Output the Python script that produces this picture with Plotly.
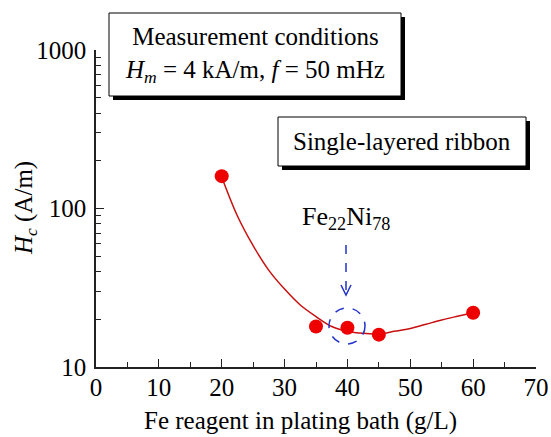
import plotly.graph_objects as go

# Data
fe_reagent = [20, 35, 40, 45, 60]
hc_values = [160, 18, 17.7, 16, 22]

# Fitted guide curve
fit_x = [20, 22.5, 25, 27.5, 30, 32.5, 35, 37.5, 40, 42.5, 45, 47.5, 50, 52.5, 55, 57.5, 60]
fit_y = [158, 89.7, 58.3, 40.7, 31, 24.6, 20.8, 18.0, 16.8, 16.3, 16.2, 16.8, 17.5, 18.6, 19.8, 20.9, 22]

x_ticks = [0, 10, 20, 30, 40, 50, 60, 70]
x_minor = [5, 15, 25, 35, 45, 55, 65]
y_ticks = [10, 100, 1000]
y_minor = [m * d for d in (10, 100) for m in range(2, 10)]

W, H = 551, 437
X0, X1, Y0, Y1 = 96, 536, 367, 50   # plot area in pixels
L, T = X0, Y1
R, B = W - X1, H - Y0
PW, PH = X1 - X0, Y0 - Y1

def px(x):  # pixel x -> paper
    return (x - X0) / PW

def py(y):  # pixel y -> paper
    return (Y0 - y) / PH

FONT = "Liberation Serif, Times New Roman, serif"
BLUE = "#2233cc"

fig = go.Figure()
fig.add_trace(go.Scatter(x=fit_x, y=fit_y, mode="lines",
                         line=dict(color="#c81010", width=1.5, shape="spline", smoothing=1.0),
                         hoverinfo="skip", showlegend=False))
fig.add_trace(go.Scatter(x=fe_reagent, y=hc_values, mode="markers",
                         marker=dict(color="#ee0000", size=14),
                         showlegend=False))

shapes = []

def box(x0, y0, x1, y1, sh=4):
    shapes.append(dict(type="rect", xref="paper", yref="paper",
                       x0=px(x0 + sh), x1=px(x1 + sh), y0=py(y1 + sh), y1=py(y0 + sh),
                       fillcolor="black", line=dict(width=0), layer="above"))
    shapes.append(dict(type="rect", xref="paper", yref="paper",
                       x0=px(x0), x1=px(x1), y0=py(y1), y1=py(y0),
                       fillcolor="white", line=dict(color="black", width=1), layer="above"))

box(109, 13, 401, 96)
box(278, 117, 526, 166)

# dashed circle around the Fe22Ni78 point
ccx, ccy, cr = 347, 326, 18
shapes.append(dict(type="circle", xref="paper", yref="paper",
                   x0=px(ccx - cr), x1=px(ccx + cr), y0=py(ccy + cr), y1=py(ccy - cr),
                   line=dict(color=BLUE, width=1.5, dash="dash"), layer="above"))
# dashed arrow
ax_px = 346
shapes.append(dict(type="line", xref="paper", yref="paper",
                   x0=px(ax_px), x1=px(ax_px), y0=py(245), y1=py(294),
                   line=dict(color=BLUE, width=1.5, dash="dash")))
shapes.append(dict(type="path", xref="paper", yref="paper",
                   path=f"M {px(ax_px-5)} {py(285)} L {px(ax_px)} {py(295)} L {px(ax_px+5)} {py(285)}",
                   line=dict(color=BLUE, width=1.5)))

annotations = [
    dict(xref="paper", yref="paper", x=px(255), y=py(55),
         text="Measurement conditions<br><i>H</i><sub><i>m</i></sub> = 4 kA/m, <i>f</i> = 50 mHz",
         showarrow=False, font=dict(family=FONT, size=25, color="black"),
         xanchor="center", yanchor="middle"),
    dict(xref="paper", yref="paper", x=px(402), y=py(141),
         text="Single-layered ribbon", showarrow=False,
         font=dict(family=FONT, size=25, color="black"),
         xanchor="center", yanchor="middle"),
    dict(xref="paper", yref="paper", x=px(346), y=py(218),
         text="Fe<sub>22</sub>Ni<sub>78</sub>", showarrow=False,
         font=dict(family=FONT, size=26, color="black"),
         xanchor="center", yanchor="middle"),
    dict(xref="paper", yref="paper", x=px(25), y=py(208), textangle=-90,
         text="<i>H</i><sub><i>c</i></sub> (A/m)", showarrow=False,
         font=dict(family=FONT, size=25, color="black"),
         xanchor="center", yanchor="middle"),
    dict(xref="paper", yref="paper", x=px(300), y=py(421),
         text="Fe reagent in plating bath (g/L)", showarrow=False,
         font=dict(family=FONT, size=25, color="black"),
         xanchor="center", yanchor="middle"),
]

fig.update_layout(
    width=W, height=H,
    margin=dict(l=L, r=R, t=T, b=B, pad=0, autoexpand=False),
    plot_bgcolor="white", paper_bgcolor="white",
    font=dict(family=FONT, size=25, color="black"),
    shapes=shapes, annotations=annotations,
    xaxis=dict(range=[0, 70], tickvals=x_ticks, ticktext=[str(v) for v in x_ticks],
               automargin=False,
               ticks="inside", ticklen=8, tickwidth=1.2, tickcolor="#222",
               showline=True, linecolor="#222", linewidth=1.5, mirror=False,
               showgrid=False, zeroline=False,
               minor=dict(ticks="inside", ticklen=5, tickwidth=1.2, tickcolor="#222",
                          tickvals=x_minor, showgrid=False),
               tickfont=dict(size=25), ticklabelstandoff=-3),
    yaxis=dict(type="log", range=[1, 3], tickvals=y_ticks, ticktext=[str(v) for v in y_ticks],
               automargin=False,
               ticks="inside", ticklen=8, tickwidth=1.2, tickcolor="#222",
               showline=True, linecolor="#222", linewidth=1.5,
               showgrid=False, zeroline=False,
               minor=dict(ticks="inside", ticklen=5, tickwidth=1.2, tickcolor="#222",
                          tickvals=y_minor, showgrid=False),
               tickfont=dict(size=25), ticklabelstandoff=3),
)

fig.write_html("out.html", config={"displayModeBar": False},
               post_script="document.body.style.margin='0';document.body.style.overflow='hidden';")
